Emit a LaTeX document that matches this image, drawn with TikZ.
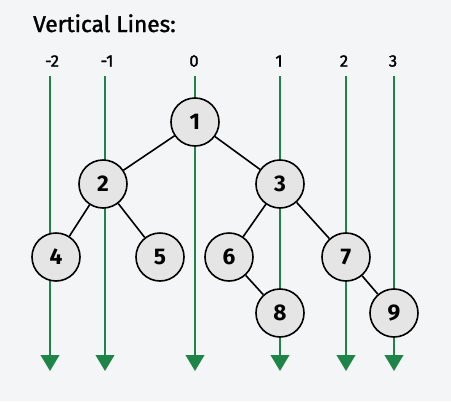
\documentclass[tikz,border=0pt]{standalone}
\usepackage{fontspec}
\setmainfont{Fira Sans}
\newfontfamily\medfont{Fira Sans}[FakeBold=1.5]
\usepackage{tikz}
\usetikzlibrary{arrows.meta}
\definecolor{bgcol}{HTML}{F4F5F7}
\definecolor{vgreen}{HTML}{1F8448}
\definecolor{nodefill}{HTML}{E5E5E5}
\tikzset{
    tnode/.style={circle, draw=black, line width=1.2pt, fill=nodefill, minimum size=36pt, inner sep=0pt, font=\fontsize{17}{20}\selectfont\bfseries},
    vline/.style={vgreen, line width=1.5pt, -{Triangle[width=14pt,length=12pt]}},
    vlabel/.style={font=\medfont\fontsize{12.5}{15}\selectfont},
    tedge/.style={line width=1.2pt}
}

\begin{document}
\begin{tikzpicture}[x=0.75pt, y=-0.75pt]
    \useasboundingbox[fill=bgcol] (0,0) rectangle (451,401);
    \node[anchor=base west, inner sep=0pt, font=\medfont\fontsize{17}{20}\selectfont] (title) at (33,32) {Vertical Lines:};
    \foreach \x/\lx/\lab/\n in {50/52/-2/a, 105/107/-1/b, 195/194/0/c, 280/279/1/d, 346/344/2/e, 394/393/3/f} {
        \node[vlabel] (lab\n) at (\lx,61) {\lab};
        \coordinate (top\n) at (\x,76);
        \coordinate (bot\n) at (\x,371);
        \draw[vline] (top\n) -- (bot\n);
    }
    \node[tnode] (n1) at (195,122) {1};
    \node[tnode] (n2) at (103,184) {2};
    \node[tnode] (n3) at (280,184) {3};
    \node[tnode] (n4) at (56,257) {4};
    \node[tnode] (n5) at (160,257) {5};
    \node[tnode] (n6) at (229,257) {6};
    \node[tnode] (n7) at (346,257) {7};
    \node[tnode] (n8) at (280,313) {8};
    \node[tnode] (n9) at (394,313) {9};
    \draw[tedge] (n1) -- (n2);
    \draw[tedge] (n1) -- (n3);
    \draw[tedge] (n2) -- (n4);
    \draw[tedge] (n2) -- (n5);
    \draw[tedge] (n3) -- (n6);
    \draw[tedge] (n3) -- (n7);
    \draw[tedge] (n6) -- (n8);
    \draw[tedge] (n7) -- (n9);
\end{tikzpicture}
\end{document}
